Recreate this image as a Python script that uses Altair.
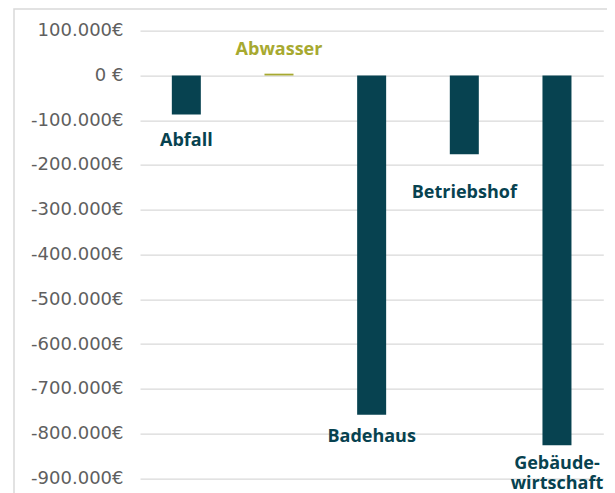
import altair as alt
import pandas as pd

categories = ["Abfall", "Abwasser", "Badehaus", "Betriebshof", "Gebäudewirtschaft"]
values = [-87000, 4000, -758000, -176000, -826000]
labels = ["Abfall", "Abwasser", "Badehaus", "Betriebshof", "Gebäude-\nwirtschaft"]
y_ticks = [100000, 0, -100000, -200000, -300000, -400000, -500000, -600000, -700000, -800000, -900000]

df = pd.DataFrame({"kategorie": categories, "wert": values, "label": labels})

DARK = "#074250"
OLIVE = "#A7A930"
color_scale = alt.Scale(domain=categories, range=[DARK, OLIVE, DARK, DARK, DARK])

x_enc = alt.X("kategorie:N", sort=categories, axis=None,
              scale=alt.Scale(paddingInner=0.687, paddingOuter=0.3435))
y_scale = alt.Scale(domain=[-900000, 100000], nice=False, zero=False)

label_expr = ("datum.value == 0 ? '0 €' : (datum.value < 0 ? '-' : '') + "
              "replace(format(abs(datum.value), ',.0f'), regexp(',', 'g'), '.') + '€'")

bars = alt.Chart(df).mark_bar().encode(
    x=x_enc,
    y=alt.Y("wert:Q", scale=y_scale,
            axis=alt.Axis(values=y_ticks, labelExpr=label_expr, title=None,
                          grid=True, domain=False, ticks=False)),
    y2=alt.datum(0),
    color=alt.Color("kategorie:N", scale=color_scale, legend=None),
)

# per-label vertical offsets (pixels) from the bar end
label_dy = {"Abfall": 31.5, "Abwasser": -19, "Badehaus": 27.5,
            "Betriebshof": 44, "Gebäudewirtschaft": 24}

text_layers = []
for cat in categories:
    t = alt.Chart(df).transform_filter(alt.datum.kategorie == cat).mark_text(
        font="Open Sans", fontWeight="bold", fontSize=18, align="center",
        baseline="alphabetic", dy=label_dy[cat], lineBreak="\n", lineHeight=20,
    ).encode(
        x=x_enc,
        y=alt.Y("wert:Q", scale=y_scale),
        text="label:N",
        color=alt.Color("kategorie:N", scale=color_scale, legend=None),
    )
    text_layers.append(t)

frame = alt.Chart(alt.Data(values=[{}])).mark_rect(
    fill="transparent", stroke="#D9D9D9", strokeWidth=1.5
).encode(
    x=alt.value(-126), x2=alt.value(560),
    y=alt.value(-21.7), y2=alt.value(520),
)

chart = alt.layer(frame, bars, *text_layers).properties(
    width=463.3, height=447.6,
    autosize=alt.AutoSizeParams(type="none"),
    padding={"left": 132, "top": 22.7, "right": 3.7, "bottom": 14.7},
).configure_view(stroke=None).configure_axis(
    labelFont="DejaVu Sans", labelFontSize=18, labelColor="#5f5f5f",
    gridColor="#D9D9D9", gridWidth=1.3, labelPadding=17,
)

chart.save("out.html", embed_options={"renderer": "svg", "actions": False})
